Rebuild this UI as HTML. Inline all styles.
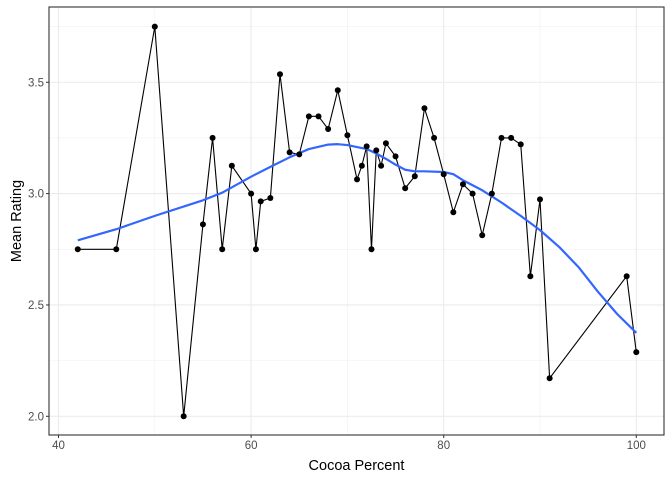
<!DOCTYPE html>
<html><head><meta charset="utf-8"><style>
body{margin:0;background:#fff}
svg{display:block;font-family:"Liberation Sans",Arial,sans-serif}
</style></head><body>
<svg id="chart" width="672" height="480" viewBox="0 0 672 480"></svg>
<script>
const cocoa=[42,46,50,53,55,56,57,58,60,60.5,61,62,63,64,65,66,67,68,69,70,71,71.5,72,72.5,73,73.5,74,75,76,77,78,79,80,81,82,83,84,85,86,87,88,89,90,91,99,100];
const rating=[2.75,2.75,3.75,2.0,2.862,3.25,2.75,3.125,3.0,2.75,2.965,2.98,3.536,3.185,3.176,3.347,3.347,3.29,3.464,3.262,3.064,3.125,3.212,2.75,3.194,3.125,3.226,3.167,3.024,3.078,3.383,3.25,3.087,2.916,3.042,3.0,2.813,3.0,3.25,3.25,3.221,2.629,2.974,2.171,2.629,2.288];
const smoothX=[42,46,50,55,57,60,62,64,66,68,69,70,72,73,74,75,76,77,78,80,81,82,84,86,88,90,92,94,96,98,100];
const smoothY=[2.79,2.84,2.90,2.97,3.004,3.076,3.12,3.163,3.2,3.22,3.222,3.218,3.2,3.18,3.156,3.13,3.107,3.10,3.10,3.097,3.087,3.06,3.015,2.96,2.90,2.836,2.76,2.67,2.56,2.46,2.375];
const xTicks=[40,60,80,100];
const yTicks=[2.0,2.5,3.0,3.5];
const yMinor=[2.25,2.75,3.25,3.75];
const xMinor=[50,70,90];
const NS="http://www.w3.org/2000/svg";
const svg=document.getElementById('chart');
const L=49,R=664,T=7,B=435;
const sx=v=>58.5+(v-40)*9.63;
const sy=v=>416.3-(v-2)*222.7;
function mk(tag,attrs,parent){const e=document.createElementNS(NS,tag);for(const k in attrs)e.setAttribute(k,attrs[k]);(parent||svg).appendChild(e);return e;}
const grid=mk('g',{});


xMinor.forEach(v=>mk('line',{x1:sx(v),x2:sx(v),y1:T,y2:B,stroke:'#f0f0f0','stroke-width':0.6},grid));
yMinor.forEach(v=>mk('line',{x1:L,x2:R,y1:sy(v),y2:sy(v),stroke:'#f0f0f0','stroke-width':0.6},grid));
xTicks.forEach(v=>mk('line',{x1:sx(v),x2:sx(v),y1:T,y2:B,stroke:'#ebebeb','stroke-width':1.1},grid));
yTicks.forEach(v=>mk('line',{x1:L,x2:R,y1:sy(v),y2:sy(v),stroke:'#ebebeb','stroke-width':1.1},grid));
const line=mk('polyline',{points:cocoa.map((c,i)=>sx(c)+','+sy(rating[i])).join(' '),fill:'none',stroke:'#000','stroke-width':1.1});


const sm=mk('polyline',{points:smoothX.map((c,i)=>sx(c)+','+sy(smoothY[i])).join(' '),fill:'none',stroke:'#3366FF','stroke-width':2.2,'stroke-linejoin':'round'});


cocoa.forEach((c,i)=>{const p=mk('circle',{cx:sx(c),cy:sy(rating[i]),r:3,fill:'#000'});

});
const frame=mk('rect',{x:L,y:T,width:R-L,height:B-T,fill:'none',stroke:'#333','stroke-width':1.1});


xTicks.forEach(v=>{mk('line',{x1:sx(v),x2:sx(v),y1:B,y2:B+3,stroke:'#333'});
const t=mk('text',{x:sx(v),y:B+14,'text-anchor':'middle','font-size':11.5,fill:'#4d4d4d'});t.textContent=v;

});
yTicks.forEach(v=>{mk('line',{x1:L-3,x2:L,y1:sy(v),y2:sy(v),stroke:'#333'});
const t=mk('text',{x:L-5,y:sy(v)+4,'text-anchor':'end','font-size':11.5,fill:'#4d4d4d'});t.textContent=v.toFixed(1);

});
const xt=mk('text',{x:(L+R)/2,y:470,'text-anchor':'middle','font-size':14.5,fill:'#000'});xt.textContent='Cocoa Percent';


const yt=mk('text',{x:0,y:0,'text-anchor':'middle','font-size':14.5,fill:'#000',transform:'translate(21,'+((T+B)/2)+') rotate(-90)'});yt.textContent='Mean Rating';


</script>
</body></html>
